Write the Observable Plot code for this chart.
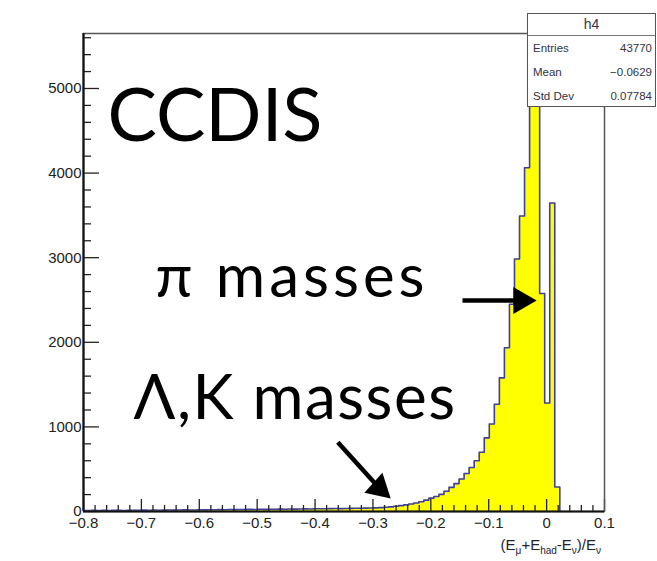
<!DOCTYPE html>
<html><head><meta charset="utf-8">
<script src="https://cdn.jsdelivr.net/npm/d3@7"></script>
<script src="https://cdn.jsdelivr.net/npm/@observablehq/plot@0.6"></script>
<style>
body{margin:0;background:#fff;}
#wrap{position:relative;width:657px;height:561px;overflow:hidden;font-family:"Liberation Sans",Arial,sans-serif;}
#stats{position:absolute;left:527px;top:13px;width:129px;height:94px;border:1.5px solid #555;background:#fff;box-sizing:border-box;color:#334;}
#stats .hd{height:21px;border-bottom:1px solid #777;text-align:center;font-size:14px;line-height:21px;}
#stats .row{display:flex;justify-content:space-between;padding:0 3px 0 5px;font-size:11.5px;height:24px;line-height:24px;}
#xtitle{position:absolute;right:56px;top:536px;font-size:15px;color:#223;white-space:nowrap;}
#xtitle sub{font-size:10px;}
</style></head><body><div id="wrap"></div>
<script>
// histogram: bin layout
const binStart = -0.8037;
const binWidth = 0.0087;
// bin contents (left to right)
const counts = [
  12, 10, 13, 11, 14, 12, 13, 15, 12, 14,
  15, 13, 16, 14, 17, 15, 16, 18, 16, 17,
  19, 18, 17, 20, 19, 21, 20, 22, 21, 23,
  22, 24, 23, 25, 24, 26, 25, 27, 26, 28,
  27, 29, 28, 30, 31, 30, 32, 33, 32, 34,
  35, 34, 36, 37, 38, 39, 40,
  41, 43, 46, 50, 55, 62, 70, 78, 88, 100,
  116, 135, 158, 178, 203, 240, 285, 330, 385, 450,
  520, 600, 700, 870, 1034, 1267, 1580, 1936, 2450, 2985,
  3493, 4064, 5300, 5100, 2576, 1282, 3647, 290
];
const xTicks = [-0.8, -0.7, -0.6, -0.5, -0.4, -0.3, -0.2, -0.1, 0, 0.1];
const xTickLabels = ["\u22120.8", "\u22120.7", "\u22120.6", "\u22120.5", "\u22120.4", "\u22120.3", "\u22120.2", "\u22120.1", "0", "0.1"];
const yTicks = [0, 1000, 2000, 3000, 4000, 5000];
const yTickLabels = ["0", "1000", "2000", "3000", "4000", "5000"];
const statsTitle = "h4";
const statsNames = ["Entries", "Mean", "Std Dev"];
const statsValues = ["43770", "\u22120.0629", "0.07784"];
const texts = ["CCDIS", "\u03c0 masses", "\u039b,K masses"];
const textX = [-0.7585, -0.6756, -0.7136];
const textY = [4385, 2530, 1099];
const arrowTail = [{x: -0.1453, y: 2494}, {x: -0.3607, y: 819}];
const arrowHead = [{x: -0.0441, y: 2494, rot: 90}, {x: -0.2892, y: 277, rot: 132}];

const bins = counts.map((c, i) => ({x1: binStart + i * binWidth, x2: binStart + (i + 1) * binWidth, y: c}));
const outline = [{x: bins[0].x1, y: 0}]
  .concat(bins.flatMap(b => [{x: b.x1, y: b.y}, {x: b.x2, y: b.y}]))
  .concat([{x: bins[bins.length - 1].x2, y: 0}]);

const xMinor = d3.range(-0.8, 0.1001, 0.02).filter(v => Math.abs(Math.round(v * 10) - v * 10) > 1e-6);
const yMinor = d3.range(0, 5601, 200).filter(v => v % 1000 !== 0);
const yMax = 5650;
const majX = 142, minX = 71;        // tick lengths in counts
const majY = 0.0276, minY = 0.0138; // tick lengths in x units

const shafts = arrowTail.map((t, i) => ({x1: t.x, y1: t.y, x2: arrowHead[i].x, y2: arrowHead[i].y}));

const plot = Plot.plot({
  width: 657, height: 561,
  marginLeft: 83, marginRight: 53, marginTop: 33, marginBottom: 50,
  style: {fontFamily: "Liberation Sans, Arial, sans-serif", fontSize: "15px", color: "#222", background: "white"},
  x: {domain: [-0.8, 0.1], ticks: xTicks, tickFormat: d => xTickLabels[xTicks.findIndex(t => Math.abs(t - d) < 1e-9)], tickSize: 0, tickPadding: 6, label: null},
  y: {domain: [0, yMax], ticks: yTicks, tickFormat: d => yTickLabels[yTicks.indexOf(d)], tickSize: 0, tickPadding: 2, label: null},
  marks: [
    Plot.areaY(outline, {x: "x", y1: 0, y2: "y", fill: "#ffff00", clip: true}),
    Plot.line(outline, {x: "x", y: "y", stroke: "#3f3fa0", strokeWidth: 1.6, clip: true}),
    Plot.ruleX(xTicks, {x: d => d, y1: 0, y2: majX, stroke: "#222", strokeWidth: 1.3}),
    Plot.ruleX(xMinor, {x: d => d, y1: 0, y2: minX, stroke: "#222", strokeWidth: 1.3}),
    Plot.ruleY(yTicks, {y: d => d, x1: -0.8, x2: -0.8 + majY, stroke: "#222", strokeWidth: 1.3}),
    Plot.ruleY(yMinor, {y: d => d, x1: -0.8, x2: -0.8 + minY, stroke: "#222", strokeWidth: 1.3}),
    Plot.frame({stroke: "#555", strokeWidth: 1.5}),
    Plot.ruleX([-0.8], {stroke: "#111", strokeWidth: 2.2}),
    Plot.ruleY([0], {stroke: "#111", strokeWidth: 2.2}),
    Plot.text([texts[0]], {x: textX[0], y: textY[0], text: d => d, textAnchor: "start", lineAnchor: "bottom", fontSize: 74, fontFamily: "Lato", fill: "black"}),
    Plot.text([texts[1]], {x: textX[1], y: textY[1], text: d => d, textAnchor: "start", lineAnchor: "bottom", fontSize: 60, fontFamily: "Lato", fill: "black"}),
    Plot.text([texts[2]], {x: textX[2], y: textY[2], text: d => d, textAnchor: "start", lineAnchor: "bottom", fontSize: 62, fontFamily: "Lato", fill: "black"}),
    Plot.link(shafts, {x1: "x1", y1: "y1", x2: "x2", y2: "y2", stroke: "black", strokeWidth: 4.5}),
    Plot.dot(arrowHead, {x: "x", y: "y", symbol: "triangle", r: 10, fill: "black", stroke: "none", rotate: "rot"})
  ]
});
const wrap = document.getElementById("wrap");
wrap.appendChild(plot);

// letter spacing of the annotation texts (Gill Sans in the original is wider)
const textGroups = plot.querySelectorAll('g[aria-label="text"]');
const spacing = ["0px", "4px", "1.5px"];
textGroups.forEach((g, i) => { g.style.letterSpacing = spacing[i] || "0px"; });
// y tick labels are drawn wider in the original
const yAxis = plot.querySelector('g[aria-label="y-axis"]');
if (yAxis) yAxis.style.letterSpacing = "1.5px";

const box = document.createElement("div");
box.id = "stats";
box.innerHTML = `<div class="hd">${statsTitle}</div>` +
  statsNames.map((n, i) => `<div class="row"><span>${n}</span><span>${statsValues[i]}</span></div>`).join("");
wrap.appendChild(box);

const xt = document.createElement("div");
xt.id = "xtitle";
xt.innerHTML = "(E<sub>\u03bc</sub>+E<sub>had</sub>-E<sub>\u03bd</sub>)/E<sub>\u03bd</sub>";
wrap.appendChild(xt);
</script>
</body></html>
